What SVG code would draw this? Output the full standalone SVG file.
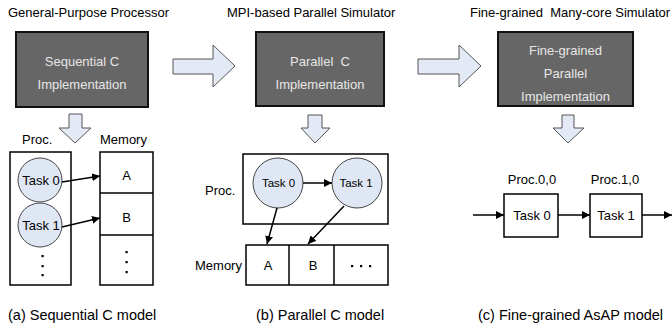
<svg xmlns="http://www.w3.org/2000/svg" width="672" height="331" viewBox="0 0 672 331">
<defs>
<style>
text{font-family:"Liberation Sans",Arial,sans-serif;fill:#000}
.t{font-size:13px}
.cap{font-size:14.5px}
.pre{white-space:pre}
.dark{fill:#666;stroke:#111;stroke-width:2}
.dt{font-size:13px;fill:#e6e6e6}
.blk{fill:#e3eaf6;stroke:#555;stroke-width:1}
.box{fill:#fff;stroke:#000;stroke-width:1.5}
.circ{fill:#e0e7f4;stroke:#444;stroke-width:1}
.ln{stroke:#000;stroke-width:1.5;fill:none}
.dot{fill:#000}
</style>
<marker id="ah" viewBox="0 0 10 10" refX="10" refY="5" markerWidth="8" markerHeight="8" markerUnits="userSpaceOnUse" orient="auto">
<path d="M0,0 L10,5 L0,10 z" fill="#000"/>
</marker>
</defs>

<rect width="672" height="331" fill="#fff"/>

<!-- titles -->
<text class="t" x="8" y="17">General-Purpose Processor</text>
<text class="t" x="227" y="17">MPI-based Parallel Simulator</text>
<text class="t pre" x="470" y="17" xml:space="preserve">Fine-grained  Many-core Simulator</text>

<!-- implementation boxes -->
<g id="seqImpl">
<rect class="dark" x="16" y="32" width="132" height="75"/>
<text class="dt" x="82" y="66" text-anchor="middle">Sequential C</text>
<text class="dt" x="82" y="89" text-anchor="middle">Implementation</text>
</g>
<g id="parImpl">
<rect class="dark" x="256" y="32" width="128" height="74"/>
<text class="dt pre" x="320" y="66" text-anchor="middle" xml:space="preserve">Parallel  C</text>
<text class="dt" x="320" y="89" text-anchor="middle">Implementation</text>
</g>
<g id="fineImpl">
<rect class="dark" x="498" y="32" width="135" height="74"/>
<text class="dt" x="565.5" y="55" text-anchor="middle">Fine-grained</text>
<text class="dt" x="565.5" y="78" text-anchor="middle">Parallel</text>
<text class="dt" x="565.5" y="101" text-anchor="middle">Implementation</text>
</g>

<!-- block arrows -->
<g id="blockArrows">
<path class="blk" d="M173,59 L213,59 L213,45 L235,66 L213,87 L213,74 L173,74 Z"/>
<path class="blk" d="M418,59 L459,59 L459,45 L481,66 L459,87 L459,74 L418,74 Z"/>
<path class="blk" d="M69,114 L82,114 L82,128 L91,128 L75,143 L59,128 L69,128 Z"/>
<path class="blk" d="M308,115 L322,115 L322,128 L330,128 L315,143 L301,128 L308,128 Z"/>
<path class="blk" d="M562,115 L574,115 L574,128 L584,128 L568,143 L553,128 L562,128 Z"/>
</g>

<!-- (a) sequential model -->
<g id="modelA">
<text class="t" x="22" y="144">Proc.</text>
<text class="t" x="100" y="144">Memory</text>
<rect class="box" x="10" y="152" width="61" height="133"/>
<rect class="box" x="100" y="152" width="53" height="133"/>
<line class="ln" x1="100" y1="193" x2="153" y2="193"/>
<line class="ln" x1="100" y1="235" x2="153" y2="235"/>
<text class="t" x="126.5" y="180" text-anchor="middle">A</text>
<text class="t" x="126.5" y="222" text-anchor="middle">B</text>
<rect class="dot" x="125.5" y="251" width="2.2" height="2.2"/>
<rect class="dot" x="125.5" y="261" width="2.2" height="2.2"/>
<rect class="dot" x="125.5" y="271" width="2.2" height="2.2"/>
<g id="a_task0">
<circle class="circ" cx="40" cy="180" r="22"/>
<text class="t" x="41" y="185" text-anchor="middle">Task 0</text>
</g>
<g id="a_task1">
<circle class="circ" cx="40" cy="225" r="22"/>
<text class="t" x="41" y="230" text-anchor="middle">Task 1</text>
</g>
<rect class="dot" x="41.5" y="255" width="2.2" height="2.2"/>
<rect class="dot" x="41.5" y="265" width="2.2" height="2.2"/>
<rect class="dot" x="41.5" y="274" width="2.2" height="2.2"/>
</g>

<!-- (b) parallel model -->
<g id="modelB">
<text class="t" x="205" y="195">Proc.</text>
<rect class="box" x="243" y="154" width="145" height="70"/>
<g id="b_task0">
<circle class="circ" cx="278" cy="183" r="25"/>
<text x="278.5" y="187" text-anchor="middle" font-size="11.5">Task 0</text>
</g>
<g id="b_task1">
<circle class="circ" cx="357" cy="183" r="25"/>
<text x="356" y="187" text-anchor="middle" font-size="11.5">Task 1</text>
</g>
<text class="t" x="195" y="270">Memory</text>
<rect class="box" x="246" y="245" width="142" height="40"/>
<line class="ln" x1="289" y1="245" x2="289" y2="285"/>
<line class="ln" x1="334" y1="245" x2="334" y2="285"/>
<text class="t" x="268" y="270" text-anchor="middle">A</text>
<text class="t" x="313" y="270" text-anchor="middle">B</text>
<rect class="dot" x="351" y="265" width="2.2" height="2.2"/>
<rect class="dot" x="360" y="265" width="2.2" height="2.2"/>
<rect class="dot" x="369" y="265" width="2.2" height="2.2"/>
</g>

<!-- (c) fine-grained model -->
<g id="modelC">
<text class="t" x="532" y="184" text-anchor="middle">Proc.0,0</text>
<text class="t" x="615" y="184" text-anchor="middle">Proc.1,0</text>
<g id="c_task0">
<rect class="box" x="504" y="194" width="54" height="43"/>
<text class="t" x="532" y="220" text-anchor="middle">Task 0</text>
</g>
<g id="c_task1">
<rect class="box" x="590" y="194" width="52" height="43"/>
<text class="t" x="616" y="220" text-anchor="middle">Task 1</text>
</g>
</g>

<!-- connectors -->
<g id="connectors">
<line class="ln" x1="62" y1="182" x2="100" y2="176" marker-end="url(#ah)"/>
<line class="ln" x1="62" y1="227" x2="100" y2="218" marker-end="url(#ah)"/>
<line class="ln" x1="303" y1="183" x2="332" y2="183" marker-end="url(#ah)"/>
<line class="ln" x1="277" y1="208" x2="267" y2="244" marker-end="url(#ah)"/>
<line class="ln" x1="344" y1="206" x2="308" y2="244" marker-end="url(#ah)"/>
<line class="ln" x1="473" y1="215" x2="504" y2="215" marker-end="url(#ah)"/>
<line class="ln" x1="558" y1="215" x2="590" y2="215" marker-end="url(#ah)"/>
<line class="ln" x1="642" y1="215" x2="672" y2="215" marker-end="url(#ah)"/>
</g>

<!-- captions -->
<text class="cap" x="8" y="320">(a) Sequential C model</text>
<text class="cap" x="256" y="320">(b) Parallel C model</text>
<text class="cap" x="478" y="320">(c) Fine-grained AsAP model</text>
</svg>
